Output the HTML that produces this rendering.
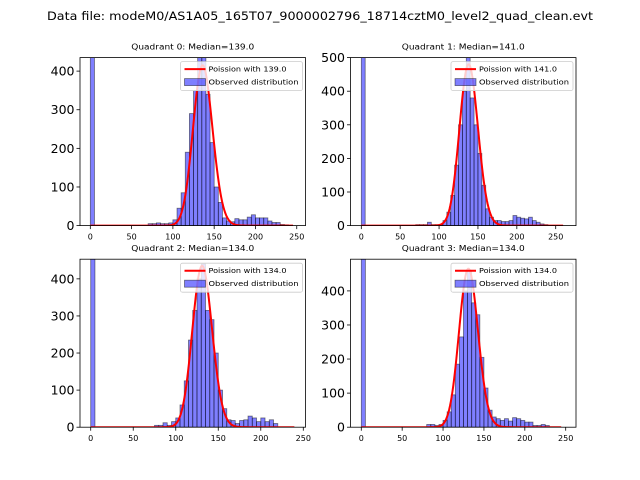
<!DOCTYPE html>
<html><head><meta charset="utf-8"><style>
body{margin:0;background:#fff;}
svg{display:block;font-family:"DejaVu Sans","Liberation Sans",sans-serif;}
</style></head><body>
<svg id="fig" width="640" height="480" viewBox="0 0 640 480">
<rect width="640" height="480" fill="#fff"/>
<text x="320" y="20" font-size="11.5" text-anchor="middle" textLength="546" lengthAdjust="spacingAndGlyphs">Data file: modeM0/AS1A05_165T07_9000002796_18714cztM0_level2_quad_clean.evt</text>
</svg>
<script>
const quadNames=["Quadrant 0","Quadrant 1","Quadrant 2","Quadrant 3"];
const medians=[139.0,141.0,134.0,134.0];
const binWidth=5;
const counts0=[3000,0,0,0,0,0,0,0,0,0,0,0,0,0,5,5,7,5,5,7,15,45,85,190,290,350,435,435,340,215,100,60,20,12,10,18,15,15,22,28,20,20,20,12,8,8,3,2,0,0];
const counts1=[3000,0,0,0,0,0,0,0,0,0,0,0,0,0,3,3,3,10,3,3,3,15,40,90,180,300,400,500,380,300,215,120,50,25,15,15,12,12,15,30,25,22,20,25,15,10,5,3,0,0,0,0,0];
const counts2=[3000,0,0,0,0,0,0,0,0,0,0,0,0,0,0,5,5,12,5,15,25,60,125,235,315,400,440,315,290,200,100,50,20,18,10,18,20,30,25,15,25,15,20,10,0,0,0,0,0];
const counts3=[3000,0,0,0,0,0,0,0,0,0,0,0,0,0,0,0,8,8,5,8,20,45,95,185,265,400,460,365,330,205,115,50,30,25,20,25,18,28,25,20,15,15,5,5,8,5,0,0,0,0];
const allCounts=[counts0,counts1,counts2,counts3];
const poissonPeaks=[415,480,435,465];
const curveMaxX=[248,262,242,247];
const curveShift=-2.5;
const xLimits=[[-12.5,260.6],[-13.9,276.1],[-12.6,252.6],[-13.2,262.6]];
const yMaxes=[435,500,453,493];
const yTicks=[[0,100,200,300,400],[0,100,200,300,400,500],[0,100,200,300,400],[0,100,200,300,400]];
const xTicks=[0,50,100,150,200,250];

const NS="http://www.w3.org/2000/svg";
const svg=document.getElementById('fig');
function mk(tag,attrs,parent){const e=document.createElementNS(NS,tag);for(const k in attrs)e.setAttribute(k,attrs[k]);(parent||svg).appendChild(e);return e;}
function lgamma(z){return (z-0.5)*Math.log(z)-z+0.5*Math.log(2*Math.PI)+1/(12*z)-1/(360*z*z*z);}
function logpmf(k,l){return k*Math.log(l)-l-lgamma(k+1);}
const boxes=[[80,57.6,305.5,225.6],[350.5,57.6,576,225.6],[80,259.2,305.5,427.2],[350.5,259.2,576,427.2]];
for(let q=0;q<4;q++){
  const [L,T,R,B]=boxes[q];
  const g=mk('g',{});
  
  
  const xs=v=>L+(v-xLimits[q][0])/(xLimits[q][1]-xLimits[q][0])*(R-L);
  const ys=v=>B-v/yMaxes[q]*(B-T);
  const cid='clip'+q;
  const cp=mk('clipPath',{id:cid},g);mk('rect',{x:L,y:T,width:R-L,height:B-T},cp);
  const plot=mk('g',{'clip-path':'url(#'+cid+')'},g);
  const counts=allCounts[q];
  counts.forEach((c,i)=>{
    if(c<=0)return;
    const x0=xs(i*binWidth),x1=xs((i+1)*binWidth);
    const r=mk('rect',{x:x0,y:ys(c),width:x1-x0,height:B-ys(c),fill:'rgba(0,0,255,0.5)',stroke:'rgba(0,0,0,0.5)','stroke-width':0.8},plot);
    
    
  });
  const lam=medians[q];
  const mode=Math.floor(lam);
  const amp=poissonPeaks[q]/Math.exp(logpmf(mode,lam));
  let d='';
  for(let k=0;k<=curveMaxX[q];k++){
    const v=k===0?amp*Math.exp(-lam):amp*Math.exp(logpmf(k,lam));
    const xk=Math.max(0,k+curveShift);
    d+=(k?'L':'M')+xs(xk).toFixed(2)+' '+ys(v).toFixed(2);
  }
  const p=mk('path',{d:d,fill:'none',stroke:'#ff0000','stroke-width':2,'stroke-linejoin':'round'},plot);
  
  
  mk('rect',{x:L,y:T,width:R-L,height:B-T,fill:'none',stroke:'#000','stroke-width':0.8},g);
  xTicks.forEach(t=>{
    if(t>xLimits[q][1])return;
    const x=xs(t);
    mk('line',{x1:x,x2:x,y1:B,y2:B+3.5,stroke:'#000','stroke-width':0.8},g);
    const tx=mk('text',{x:x,y:B+14,'font-size':8,'text-anchor':'middle'},g);tx.textContent=t;
    
    
  });
  yTicks[q].forEach(t=>{
    const y=ys(t);
    mk('line',{x1:L,x2:L-3.5,y1:y,y2:y,stroke:'#000','stroke-width':0.8},g);
    const tx=mk('text',{x:L-5.5,y:y+4.5,'font-size':12.5,'text-anchor':'end'},g);tx.textContent=t;
    
    
  });
  const title=mk('text',{x:(L+R)/2,y:T-8,'font-size':8,'text-anchor':'middle',textLength:123,lengthAdjust:'spacingAndGlyphs'},g);
  title.textContent=quadNames[q]+': Median='+medians[q].toFixed(1);
  
  
  const lg=mk('g',{},g);
  
  
  const lx=R-125,ly=T+4;
  mk('rect',{x:lx,y:ly,width:122,height:29,fill:'rgba(255,255,255,0.8)',stroke:'#ccc','stroke-width':0.8,rx:2},lg);
  mk('line',{x1:lx+4,x2:lx+25,y1:ly+7.5,y2:ly+7.5,stroke:'#ff0000','stroke-width':2},lg);
  mk('rect',{x:lx+4,y:ly+17,width:21,height:7,fill:'rgba(0,0,255,0.5)',stroke:'rgba(0,0,0,0.5)','stroke-width':0.8},lg);
  const t1=mk('text',{x:lx+28,y:ly+10,'font-size':7,textLength:78,lengthAdjust:'spacingAndGlyphs'},lg);t1.textContent='Poission with '+medians[q].toFixed(1);
  const t2=mk('text',{x:lx+28,y:ly+23,'font-size':7,textLength:90,lengthAdjust:'spacingAndGlyphs'},lg);t2.textContent='Observed distribution';
}
</script>
</body></html>
